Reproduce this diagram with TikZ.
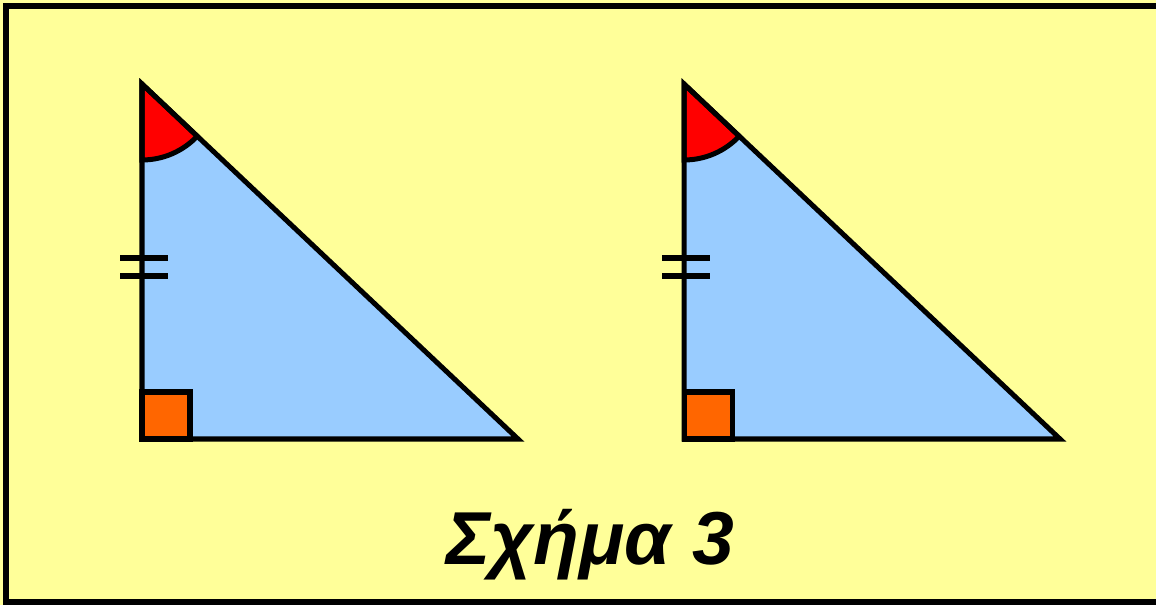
\documentclass[tikz,border=0pt]{standalone}
\usepackage{fontspec}
\setmainfont{Liberation Sans}
\usetikzlibrary{calc}
\definecolor{bgyellow}{HTML}{FFFF99}
\definecolor{triblue}{HTML}{99CCFF}
\definecolor{anglered}{HTML}{FF0000}
\definecolor{rightorange}{HTML}{FF6600}
\tikzstyle{outline} = [draw=black, line width=2.85pt, line join=miter]
\tikzstyle{tickmark} = [draw=black, line width=3.2pt]
\tikzstyle{captext} = [font=\fontsize{42.7}{48}\selectfont\bfseries\itshape, anchor=base, inner sep=0pt]

\begin{document}
\begin{tikzpicture}[x=0.02cm, y=0.02cm]
    \useasboundingbox (0,0) rectangle (1156,605);
    % frame
    \fill[bgyellow] (0,0) rectangle (1156,605);
    \draw[line width=3.4pt] (6,3) rectangle (1170,599);

    % the two right triangles
    \foreach \dx/\i in {0/1, 542/2} {
        \coordinate (top\i) at (142+\dx, 521);
        \coordinate (corner\i) at (142+\dx, 166);
        \coordinate (right\i) at (518+\dx, 166);
        \fill[triblue] (top\i) -- (corner\i) -- (right\i) -- cycle;
        \filldraw[outline, fill=anglered] (top\i) -- ++(0,-76) arc[start angle=-90, end angle=-43.4, radius=76] -- cycle;
        \filldraw[outline, fill=rightorange] (corner\i) rectangle ++(48,47);
        \draw[outline] (top\i) -- (corner\i) -- (right\i) -- cycle;
        \draw[tickmark] ($(corner\i)+(-22,181)$) -- ++(48,0);
        \draw[tickmark] ($(corner\i)+(-22,163)$) -- ++(48,0);
    }

    % caption
    \node (cap) [captext] at (590,40) {Σχήμα 3};
\end{tikzpicture}
\end{document}
